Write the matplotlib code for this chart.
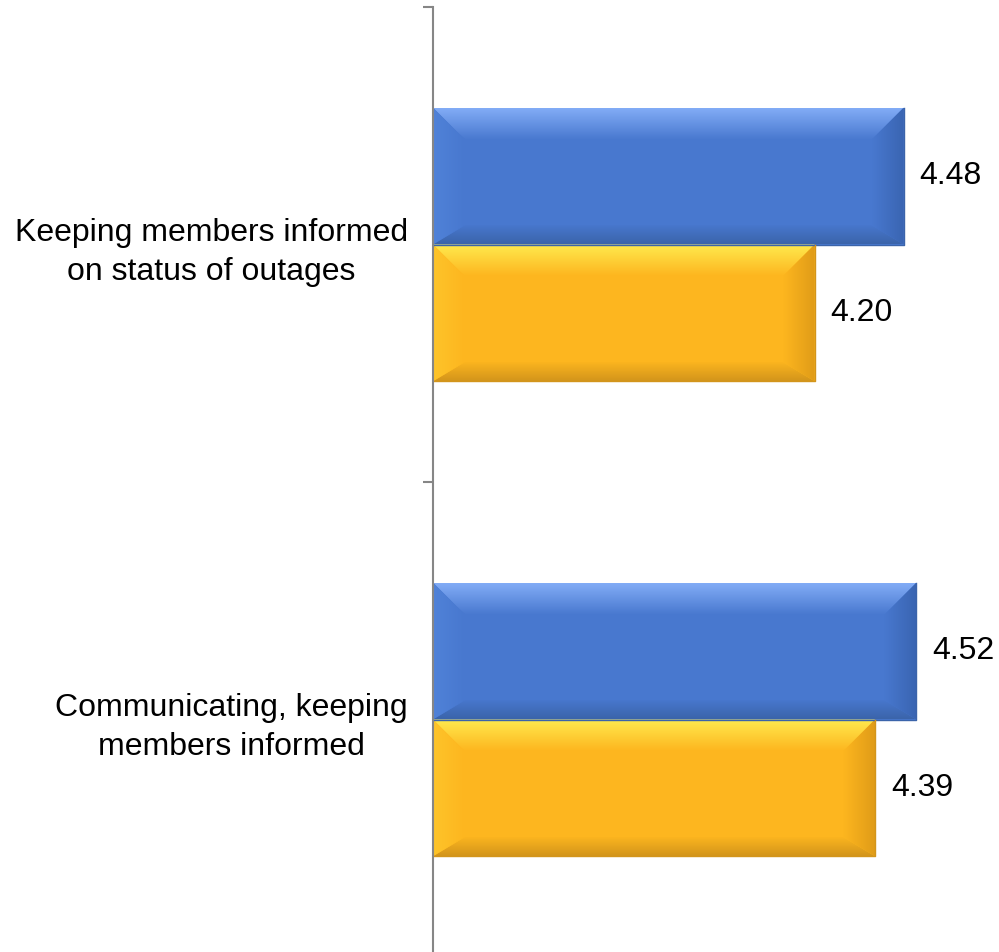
import numpy as np
import matplotlib
matplotlib.use("Agg")
import matplotlib.pyplot as plt
from matplotlib.patches import Polygon
from matplotlib.colors import LinearSegmentedColormap

plt.rcParams["font.family"] = ["Liberation Sans", "DejaVu Sans"]

# Categories listed bottom to top
CATEGORIES = ["Communicating, keeping\nmembers informed",
              "Keeping members informed\non status of outages"]
SCORES_BLUE = [4.52, 4.48]
SCORES_GOLD = [4.39, 4.20]

BLUE = dict(face="#4878CF", top="#82ACF6", bottom="#3B64AA", left="#5082D8", right="#3A65B2")
GOLD = dict(face="#FDB61F", top="#FFEA4E", bottom="#D3951B", left="#FEC42A", right="#E09C18")

X_MIN, X_MAX = 3.0, 5.0
BAR_H = 0.288


def shaded_face(ax, pts, c_edge, c_inner, direction):
    """Fill a polygon with a linear gradient from its outer edge inwards."""
    xs = [p[0] for p in pts]
    ys = [p[1] for p in pts]
    cmap = LinearSegmentedColormap.from_list("g", [c_edge, c_inner])
    ramp = np.linspace(0, 1, 64)
    if direction == "down":      # edge at top
        grad = ramp[:, None]
    elif direction == "up":      # edge at bottom
        grad = ramp[::-1][:, None]
    elif direction == "right":   # edge at left
        grad = ramp[None, :]
    else:                        # edge at right
        grad = ramp[::-1][None, :]
    poly = Polygon(pts, closed=True, facecolor="none", edgecolor="none")
    ax.add_patch(poly)
    im = ax.imshow(grad, cmap=cmap, aspect="auto", origin="upper",
                   extent=(min(xs), max(xs), min(ys), max(ys)),
                   interpolation="bilinear", zorder=3)
    im.set_clip_path(poly)


def bevel_bar(ax, y, width, h, pal, bx, by):
    """Draw a bar with a soft bevel from its data extents."""
    x0, x1 = X_MIN, width
    y0, y1 = y - h / 2, y + h / 2
    ax.barh(y, width - X_MIN, left=X_MIN, height=h, color=pal["face"],
            edgecolor="none", zorder=2)
    top = [(x0, y1), (x1, y1), (x1 - bx, y1 - by), (x0 + bx, y1 - by)]
    bottom = [(x0, y0), (x1, y0), (x1 - bx, y0 + by * 0.6), (x0 + bx, y0 + by * 0.6)]
    left = [(x0, y0), (x0, y1), (x0 + bx, y1 - by), (x0 + bx, y0 + by * 0.6)]
    right = [(x1, y0), (x1, y1), (x1 - bx, y1 - by), (x1 - bx, y0 + by * 0.6)]
    shaded_face(ax, top, pal["top"], pal["face"], "down")
    shaded_face(ax, bottom, pal["bottom"], pal["face"], "up")
    shaded_face(ax, left, pal["left"], pal["face"], "right")
    shaded_face(ax, right, pal["right"], pal["face"], "left")
    ax.plot([x0, x1, x1], [y0, y0, y1], color=pal["bottom"], lw=1.0, zorder=4)


fig = plt.figure(figsize=(9.99, 9.52), dpi=100)
ax = fig.add_axes([433 / 999, -5 / 952, (1069 - 433) / 999, 950 / 952])

ys = np.arange(len(CATEGORIES))
bx = 32 / 318   # bevel size in data units
by = 32 / 475
for i, y in enumerate(ys):
    bevel_bar(ax, y + BAR_H / 2, SCORES_BLUE[i], BAR_H, BLUE, bx, by)
    bevel_bar(ax, y - BAR_H / 2, SCORES_GOLD[i], BAR_H, GOLD, bx, by)
    ax.text(SCORES_BLUE[i] + 0.05, y + BAR_H / 2, f"{SCORES_BLUE[i]:.2f}",
            va="center", ha="left", fontsize=23)
    ax.text(SCORES_GOLD[i] + 0.05, y - BAR_H / 2, f"{SCORES_GOLD[i]:.2f}",
            va="center", ha="left", fontsize=23)

ax.set_xlim(X_MIN, X_MAX)
ax.set_ylim(-0.5, len(CATEGORIES) - 0.5)

for s in ["top", "right", "bottom"]:
    ax.spines[s].set_visible(False)
ax.spines["left"].set_color("#868686")
ax.spines["left"].set_linewidth(1.5)
ax.spines["left"].set_zorder(5)
ax.xaxis.set_visible(False)

ax.set_yticks(np.arange(len(CATEGORIES) + 1) - 0.5)
ax.set_yticklabels([])
ax.tick_params(axis="y", which="major", length=7.5, width=1.5, color="#868686")
ax.set_yticks(ys, minor=True)
ax.set_yticklabels(CATEGORIES, minor=True, fontsize=23, multialignment="center",
                   linespacing=1.38)
ax.tick_params(axis="y", which="minor", length=0, pad=18)

fig.savefig("out.png", dpi=100, facecolor="white")
